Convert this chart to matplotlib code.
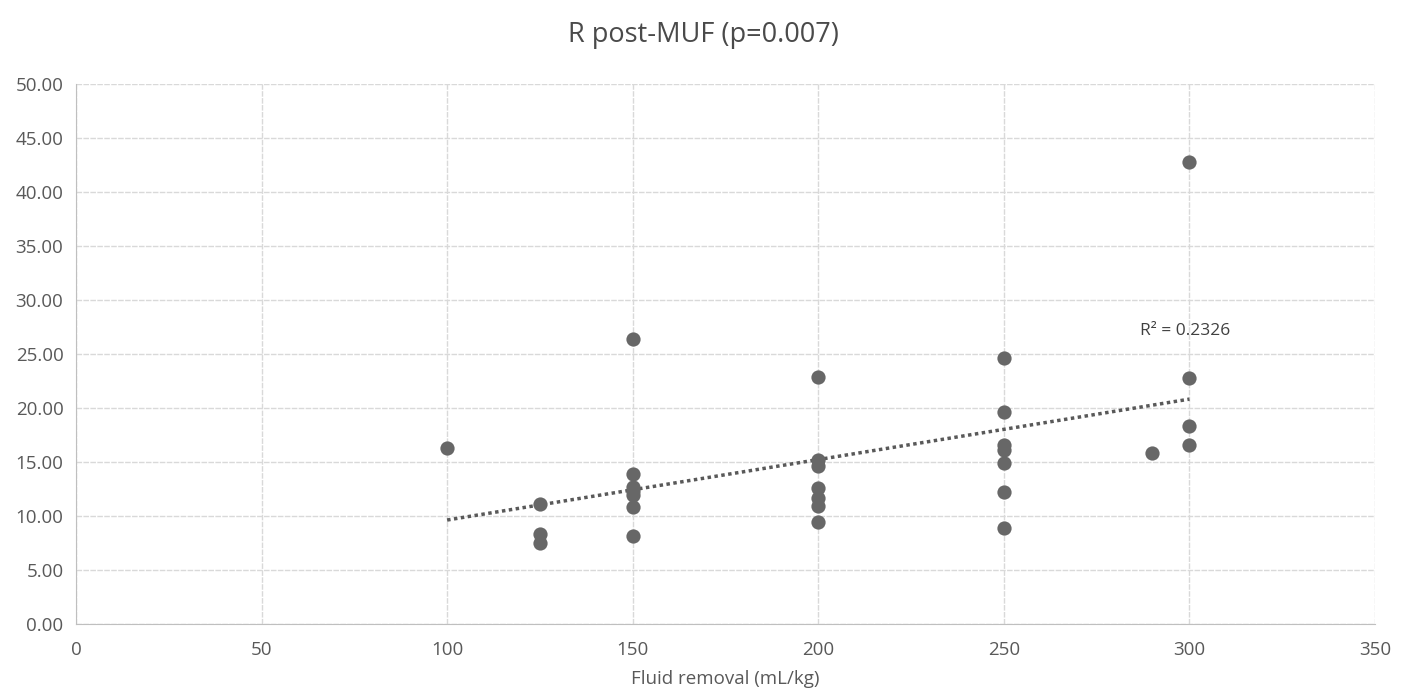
import numpy as np
import matplotlib
matplotlib.use("Agg")
import matplotlib.pyplot as plt

plt.rcParams['font.family'] = ['Open Sans', 'DejaVu Sans']

fluid = [100,
         125, 125, 125,
         150, 150, 150, 150, 150, 150, 150,
         200, 200, 200, 200, 200, 200, 200,
         250, 250, 250, 250, 250, 250, 250,
         290,
         300, 300, 300, 300]
r_post = [16.3,
          11.1, 8.3, 7.5,
          26.4, 13.9, 12.7, 12.3, 11.9, 10.8, 8.1,
          22.9, 15.2, 14.6, 12.6, 11.7, 10.9, 9.4,
          24.6, 19.6, 16.6, 16.1, 14.9, 12.2, 8.9,
          15.8,
          42.8, 22.8, 18.3, 16.6]

title = "R post-MUF (p=0.007)"
xlabel = "Fluid removal (mL/kg)"
r2_text = "R² = 0.2326"

x = np.array(fluid, dtype=float)
y = np.array(r_post, dtype=float)
slope, intercept = np.polyfit(x, y, 1)

fig = plt.figure(figsize=(14.06, 6.98), dpi=100)
ax = fig.add_axes([0.054, 0.106, 0.924, 0.774])

ax.scatter(x, y, s=105, color='#676767', zorder=3, linewidths=0)
xs = np.array([x.min(), x.max()])
ax.plot(xs, slope * xs + intercept, linestyle=(0, (1, 1)), color='#595959', linewidth=2.5, zorder=2)
ax.text(298.8, 27.1, r2_text, fontsize=12.5, color='#404040', ha='center', va='center')

ax.set_xlim(0, 350)
ax.set_ylim(0, 50)
ax.set_xticks(np.arange(0, 351, 50))
ax.set_yticks(np.arange(0, 50.1, 5))
ax.set_yticklabels([f"{v:.2f}" for v in np.arange(0, 50.1, 5)])
ax.grid(True, color='#d9d9d9', linewidth=1, linestyle=(0, (4, 1)))
ax.set_axisbelow(True)
for s in ['top', 'right']:
    ax.spines[s].set_visible(False)
for s in ['left', 'bottom']:
    ax.spines[s].set_color('#bfbfbf')
ax.tick_params(length=0, labelsize=13.5, colors='#595959')
ax.tick_params(axis='y', pad=9)
ax.tick_params(axis='x', pad=12)
ax.set_xlabel(xlabel, fontsize=13.5, color='#595959', labelpad=8)
fig.suptitle(title, fontsize=19.5, color='#4a4a4a', y=0.97)

fig.savefig("out.png", dpi=100)
